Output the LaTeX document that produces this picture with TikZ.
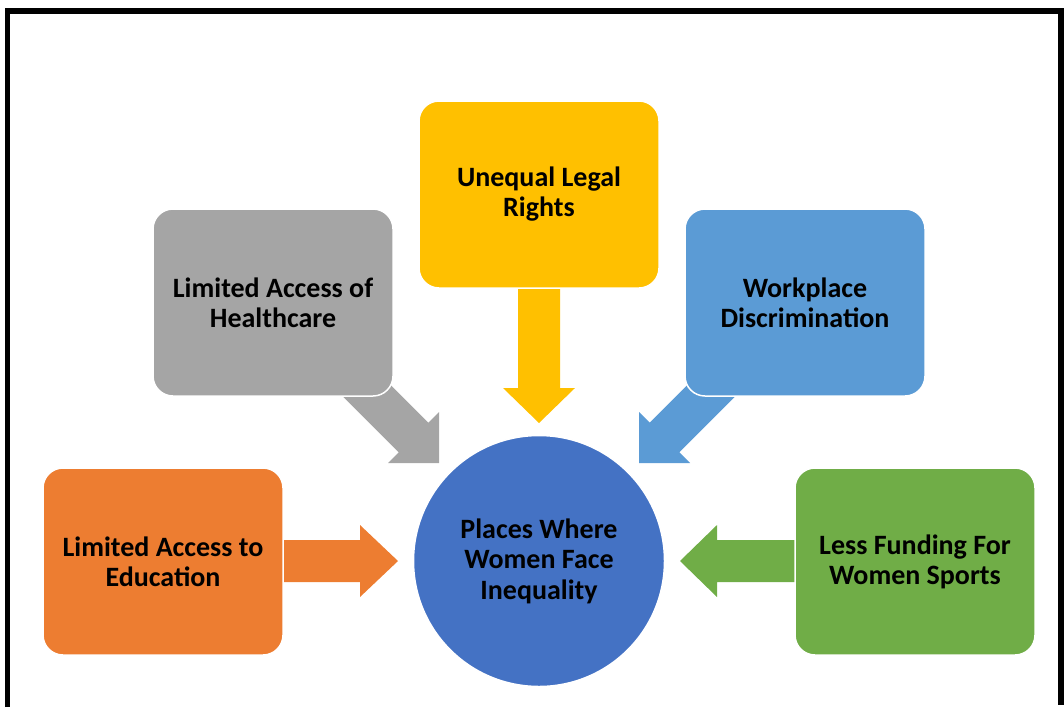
\documentclass[tikz,border=0pt]{standalone}
\usepackage{fontspec}
\setmainfont{Carlito}
\definecolor{cOrange}{HTML}{ED7D31}
\definecolor{cGray}{HTML}{A5A5A5}
\definecolor{cYellow}{HTML}{FFC000}
\definecolor{cBlue}{HTML}{5B9BD5}
\definecolor{cGreen}{HTML}{70AD47}
\definecolor{cCircle}{HTML}{4472C4}
\begin{document}
\begin{tikzpicture}[x=1pt,y=-1pt,
  box/.style={draw=white, line width=1.5pt, rounded corners=20pt,
    minimum width=240pt, minimum height=187pt, inner sep=0pt,
    align=center, font=\bfseries\fontsize{28}{30}\selectfont, text=black},
  hub/.style={circle, draw=white, line width=1.5pt, fill=cCircle,
    minimum size=251pt, inner sep=0pt, align=center,
    font=\bfseries\fontsize{28}{30.5}\selectfont, text=black},
  frame/.style={line width=5.5pt, line join=miter}]
\useasboundingbox (0,0) rectangle (1064,707);
\draw[frame] (7.5,707) -- (7.5,11) -- (1061,11) -- (1061,705);
% block arrows
\fill[cOrange] (280,540) -- (360,540) -- (360,525) -- (398,561) -- (360,597) -- (360,582) -- (280,582) -- cycle;
\fill[cGreen] (800,540) -- (717,540) -- (717,525) -- (680,561) -- (717,597) -- (717,582) -- (800,582) -- cycle;
\fill[cYellow] (518,280) -- (518,388) -- (503,388) -- (539,423) -- (575,388) -- (560,388) -- (560,280) -- cycle;
\fill[cGray] (357.6,352) -- (428.3,422.7) -- (439,412) -- (439,463) -- (388,463) -- (398.7,452.3) -- (328,381.6) -- cycle;
\fill[cBlue] (720.4,352) -- (649.7,422.7) -- (639,412) -- (639,463) -- (690,463) -- (679.3,452.3) -- (750,381.6) -- cycle;
% boxes
\node[box, fill=cOrange] (edu) at (163,561.5) {Limited Access to\\Education};
\node[box, fill=cGray] (health) at (273,302.5) {Limited Access of\\Healthcare};
\node[box, fill=cYellow] (legal) at (539,194.5) {Unequal Legal\\Rights};
\node[box, fill=cBlue] (work) at (805,302.5) {Workplace\\Discrimination};
\node[box, fill=cGreen] (sport) at (915,561.5) {Less Funding For\\Women Sports};
\node[hub] (hub) at (539,561) {Places Where\\Women Face\\Inequality};
\end{tikzpicture}
\end{document}
